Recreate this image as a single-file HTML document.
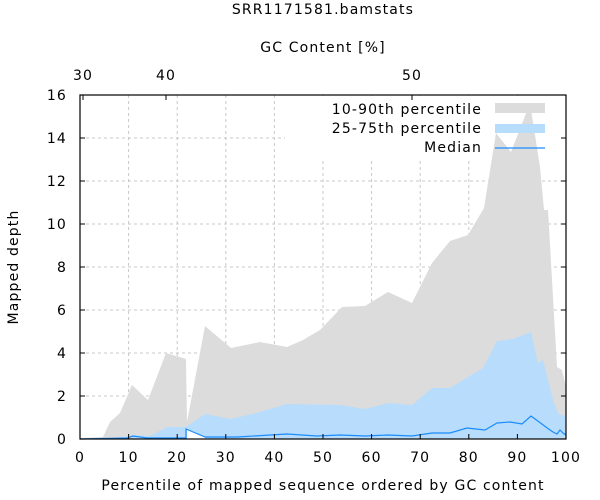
<!DOCTYPE html>
<html><head><meta charset="utf-8"><style>
html,body{margin:0;padding:0;background:#fff;}
svg{display:block;font-family:"DejaVu Sans","Liberation Sans",sans-serif;font-size:14px;letter-spacing:1.15px;fill:#000;}
</style></head><body>
<svg width="600" height="500" viewBox="0 0 600 500" xmlns="http://www.w3.org/2000/svg">
<g stroke="#c8c8c8" stroke-dasharray="3,3" stroke-width="1">
<line x1="80" y1="396" x2="566" y2="396"/><line x1="80" y1="353" x2="566" y2="353"/>
<line x1="80" y1="310" x2="566" y2="310"/><line x1="80" y1="267" x2="566" y2="267"/>
<line x1="80" y1="224" x2="566" y2="224"/><line x1="80" y1="181" x2="566" y2="181"/>
<line x1="80" y1="138" x2="566" y2="138"/>
<line x1="128.6" y1="95" x2="128.6" y2="439"/><line x1="177.2" y1="95" x2="177.2" y2="439"/>
<line x1="225.8" y1="95" x2="225.8" y2="439"/><line x1="274.4" y1="95" x2="274.4" y2="439"/>
<line x1="323" y1="95" x2="323" y2="439"/><line x1="371.6" y1="95" x2="371.6" y2="439"/>
<line x1="420.2" y1="95" x2="420.2" y2="439"/><line x1="468.8" y1="95" x2="468.8" y2="439"/>
<line x1="517.4" y1="95" x2="517.4" y2="439"/>
</g>
<rect x="285" y="96" width="280" height="62" fill="#fff"/>
<polygon fill="#dcdcdc" points="80,439 80,438 103,437 110,422 120,413 132,385 148,400 166,353 186,359 187,422 205,326 231,348 260,342 287,347 303,340 320,330 342,307 365,306 388,292 412,303 432,263 450,241 468,235 484,208 496,133 511,152 530,103 540,167 544,210 548,210 557,367 562,370 566,387 566,439"/>
<polygon fill="#b8dcfb" points="80,439 120,438 133,435 150,436 167,427 186,427 205,414 231,419 260,412 287,404 340,405 365,409 388,403 412,405 432,388 450,388 483,368 497,341 513,339 531,332 538,363 543,360 553,400 558,413 566,417 566,439"/>
<polygon fill="#fff" points="187,439 187,429 205,437 205,439"/>
<polyline fill="none" stroke="#1a8cff" stroke-width="1.2" points="80,439 127,438 133,436 147,438 186,438 186,429 205,437 237,437 287,434 317,436 340,435 365,436 388,435 412,436 432,433 450,433 467,428 485,430 497,423 510,422 522,424 531,416 550,430 553,432 557,434 560,430 563,433 566,435"/>
<rect x="80" y="95" width="486" height="344" fill="none" stroke="#000" stroke-width="1.2"/>
<g stroke="#000" stroke-width="1">
<line x1="80" y1="396" x2="85" y2="396"/><line x1="80" y1="353" x2="85" y2="353"/><line x1="80" y1="310" x2="85" y2="310"/><line x1="80" y1="267" x2="85" y2="267"/><line x1="80" y1="224" x2="85" y2="224"/><line x1="80" y1="181" x2="85" y2="181"/><line x1="80" y1="138" x2="85" y2="138"/>
<line x1="566" y1="396" x2="561" y2="396"/><line x1="566" y1="353" x2="561" y2="353"/><line x1="566" y1="310" x2="561" y2="310"/><line x1="566" y1="267" x2="561" y2="267"/><line x1="566" y1="224" x2="561" y2="224"/><line x1="566" y1="181" x2="561" y2="181"/><line x1="566" y1="138" x2="561" y2="138"/>
<line x1="128.6" y1="439" x2="128.6" y2="434"/><line x1="177.2" y1="439" x2="177.2" y2="434"/><line x1="225.8" y1="439" x2="225.8" y2="434"/><line x1="274.4" y1="439" x2="274.4" y2="434"/><line x1="323" y1="439" x2="323" y2="434"/><line x1="371.6" y1="439" x2="371.6" y2="434"/><line x1="420.2" y1="439" x2="420.2" y2="434"/><line x1="468.8" y1="439" x2="468.8" y2="434"/><line x1="517.4" y1="439" x2="517.4" y2="434"/>
<line x1="83" y1="95" x2="83" y2="100"/><line x1="166" y1="95" x2="166" y2="100"/><line x1="412" y1="95" x2="412" y2="100"/>
</g>
<g text-anchor="end">
<text x="67" y="444">0</text><text x="67" y="401">2</text><text x="67" y="358">4</text><text x="67" y="315">6</text><text x="67" y="272">8</text><text x="67" y="229">10</text><text x="67" y="186">12</text><text x="67" y="143">14</text><text x="67" y="100">16</text>
</g>
<g text-anchor="middle">
<text x="80" y="462">0</text><text x="128.6" y="462">10</text><text x="177.2" y="462">20</text><text x="225.8" y="462">30</text><text x="274.4" y="462">40</text><text x="323" y="462">50</text><text x="371.6" y="462">60</text><text x="420.2" y="462">70</text><text x="468.8" y="462">80</text><text x="517.4" y="462">90</text><text x="566" y="462">100</text>
<text x="83" y="80">30</text><text x="166" y="80">40</text><text x="412" y="80">50</text>
<text x="323" y="14">SRR1171581.bamstats</text>
<text x="323" y="52">GC Content [%]</text>
<text x="323" y="490">Percentile of mapped sequence ordered by GC content</text>
<text transform="translate(18,267) rotate(-90)">Mapped depth</text>
</g>
<g text-anchor="end">
<text x="482" y="114">10-90th percentile</text>
<text x="482" y="133">25-75th percentile</text>
<text x="482" y="152">Median</text>
</g>
<rect x="495" y="103" width="50" height="10" fill="#dcdcdc"/>
<rect x="495" y="124" width="50" height="9" fill="#b8dcfb"/>
<line x1="495" y1="148" x2="545" y2="148" stroke="#1a8cff" stroke-width="1.2"/>
</svg>
</body></html>
